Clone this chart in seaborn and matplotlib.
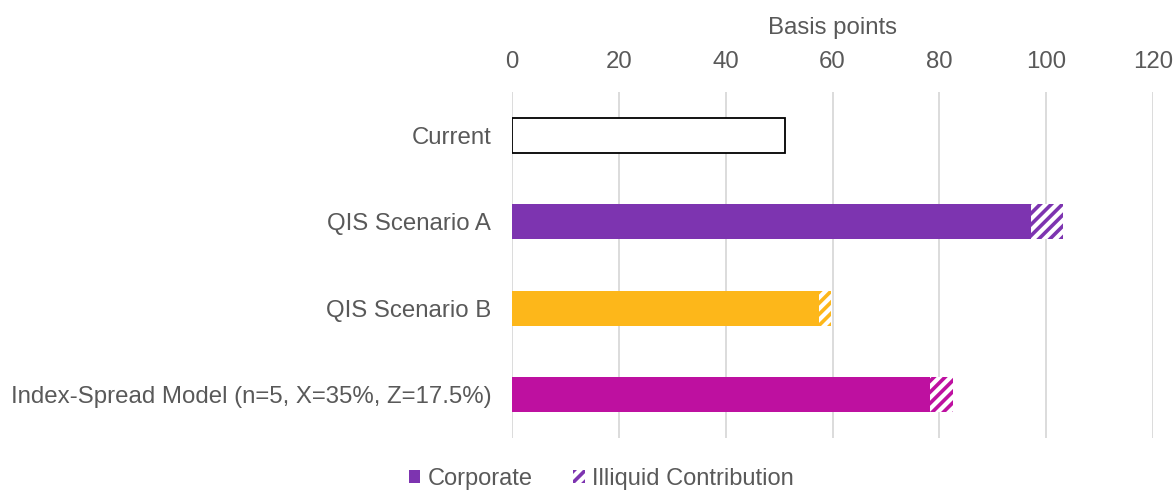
import matplotlib
matplotlib.use("Agg")
import matplotlib.pyplot as plt
import seaborn as sns
import pandas as pd
from matplotlib.patches import Patch

categories = ["Current", "QIS Scenario A", "QIS Scenario B",
              "Index-Spread Model (n=5, X=35%, Z=17.5%)"]
corporate = [51.1, 97.1, 57.5, 78.2]
illiquid = [0.0, 6.1, 2.3, 4.3]
xticks = [0, 20, 40, 60, 80, 100, 120]

colors = ["#FFFFFF", "#7D34B0", "#FDB71A", "#BE10A0"]
edge_main = ["#000000", "none", "none", "none"]
text_col = "#595959"
fs = 17.3

sns.set_theme(style="white")
plt.rcParams["font.family"] = ["Liberation Sans", "DejaVu Sans"]
plt.rcParams["hatch.linewidth"] = 2.6

df = pd.DataFrame({"category": categories, "corporate": corporate,
                   "illiquid": illiquid})
df["total"] = df["corporate"] + df["illiquid"]

fig = plt.figure(figsize=(11.76, 4.91), dpi=100)
ax = fig.add_axes([512 / 1176, 1 - 438 / 491, (1153 - 512) / 1176, (438 - 92) / 491])

# hatched totals (illiquid contribution) underneath
sns.barplot(data=df, y="category", x="total", orient="h", ax=ax,
            width=0.4, color="white", saturation=1, errorbar=None)
for i, p in enumerate(ax.patches):
    if illiquid[i] > 0:
        p.set_facecolor("white")
        p.set_edgecolor(colors[i])
        p.set_hatch("///")
        p.set_linewidth(0)
    else:
        p.set_visible(False)
n_first = len(ax.patches)

# solid corporate bars on top
sns.barplot(data=df, y="category", x="corporate", orient="h", ax=ax,
            width=0.4, hue="category", palette=colors, saturation=1,
            errorbar=None, legend=False)
for i, p in enumerate(ax.patches[n_first:]):
    p.set_zorder(3)
    if edge_main[i] != "none":
        p.set_edgecolor(edge_main[i])
        p.set_linewidth(1.3)
    else:
        p.set_linewidth(0)

ax.set_xlim(0, 120)
ax.set_ylim(3.5, -0.5)
ax.set_xticks(xticks)
ax.xaxis.tick_top()
ax.xaxis.set_label_position("top")
ax.set_xlabel("Basis points", fontsize=fs, color=text_col, labelpad=12)
ax.set_ylabel("")
ax.tick_params(axis="x", length=0, labelsize=fs, labelcolor=text_col, pad=14)
ax.tick_params(axis="y", length=0, labelsize=fs, labelcolor=text_col, pad=15)
ax.grid(axis="x", color="#D9D9D9", linewidth=1.3)
ax.set_axisbelow(True)
for s in ax.spines.values():
    s.set_visible(False)

handles = [Patch(facecolor=colors[1], edgecolor="none", label="Corporate"),
           Patch(facecolor="white", edgecolor=colors[1], hatch="///",
                 linewidth=0, label="Illiquid Contribution")]
fig.legend(handles=handles, loc="center", bbox_to_anchor=(601 / 1176, 1 - 479 / 491),
           ncol=2, frameon=False, fontsize=17, handlelength=0.5, handleheight=0.5,
           handletextpad=0.3, columnspacing=1.7, labelcolor=text_col,
           borderpad=0.1)

fig.savefig("out.png", dpi=100)
